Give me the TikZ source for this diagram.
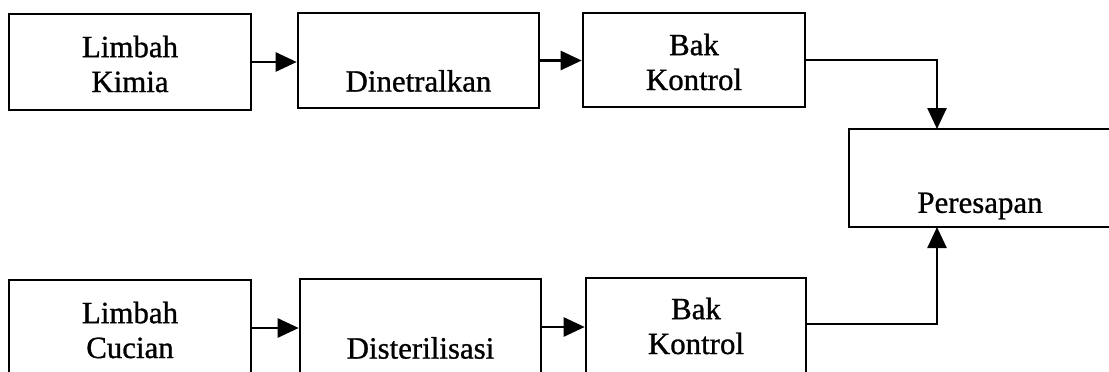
\documentclass[tikz,border=0pt]{standalone}
\usepackage{fontspec}
\setmainfont{Liberation Serif}[FakeBold=0.9]
\usetikzlibrary{arrows.meta}
\begin{document}
\begin{tikzpicture}[x=1bp,y=-1bp,
  box/.style={draw,line width=2.6bp,rectangle,inner sep=0pt},
  lbl/.style={align=center,inner sep=0pt,font=\fontsize{31}{35}\selectfont},
  flow/.style={line width=2.6bp,-{Triangle[length=21bp,width=19bp]}}]
\useasboundingbox (0,0) rectangle (1109,371);
% upper line: chemical waste
\node[box,minimum width=242bp,minimum height=96bp] (A1) at (130,62) {};
\node[box,minimum width=241bp,minimum height=95bp] (A2) at (418.5,60.5) {};
\node[box,minimum width=222bp,minimum height=94bp] (A3) at (694,60) {};
% infiltration
\node[box,minimum width=263bp,minimum height=98bp] (P) at (980.5,178) {};
% lower line: laundry waste
\node[box,minimum width=242bp,minimum height=96bp] (B1) at (130,328) {};
\node[box,minimum width=241bp,minimum height=96bp] (B2) at (420.5,327) {};
\node[box,minimum width=220bp,minimum height=96bp] (B3) at (696,326) {};
% labels
\node[lbl] (tA1) at (130,64) {Limbah\\Kimia};
\node[lbl] (tA2) at (418.5,81) {Dinetralkan};
\node[lbl] (tA3) at (694,62) {Bak\\Kontrol};
\node[lbl] (tP) at (980,206) {Peresapan};
\node[lbl] (tB1) at (130,330) {Limbah\\Cucian};
\node[lbl] (tB2) at (420.5,348) {Disterilisasi};
\node[lbl] (tB3) at (696,326) {Bak\\Kontrol};
% connectors
\coordinate (pinT) at (937,129);
\coordinate (pinB) at (937,227);
\draw[flow] (A1.east) -- (A1.east -| A2.west);
\draw[flow] (A2.east) -- (A2.east -| A3.west);
\draw[flow] (A3.east) -| (pinT);
\draw[flow] (B1.east) -- (B1.east -| B2.west);
\draw[flow] (B2.east) -- (B2.east -| B3.west);
\draw[flow] ([yshift=2bp]B3.east) -| (pinB);
\end{tikzpicture}
\end{document}
